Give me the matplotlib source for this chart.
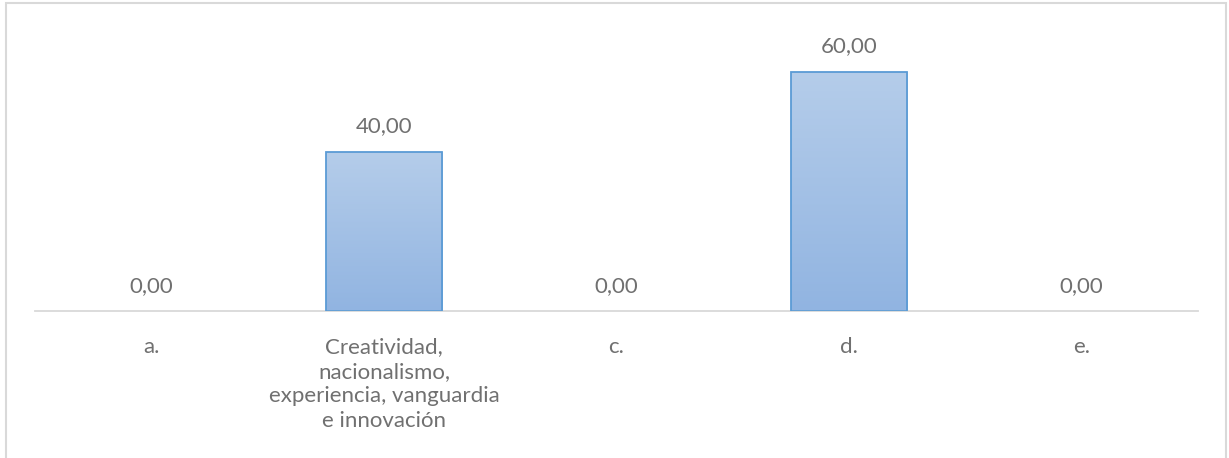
import matplotlib
matplotlib.use('Agg')
import matplotlib.pyplot as plt
from matplotlib.patches import Rectangle
import numpy as np

categories = ['a.', 'Creatividad,\nnacionalismo,\nexperiencia, vanguardia\ne innovación', 'c.', 'd.', 'e.']
values = [0.0, 40.0, 0.0, 60.0, 0.0]

text_gray = '#707070'
plt.rcParams['font.family'] = ['Lato', 'DejaVu Sans']

fig = plt.figure(figsize=(12.29, 4.58), dpi=100)
ax = fig.add_axes([35 / 1229, 147 / 458, 1163 / 1229, 279 / 458])

x = np.arange(len(categories))
bars = ax.bar(x, values, width=0.5, color='none', edgecolor='#5B9BD5', linewidth=1.3, zorder=3)

# vertical gradient fill for each bar, no outline on empty bars
grad = np.linspace(0, 1, 256).reshape(-1, 1)
cmap = matplotlib.colors.LinearSegmentedColormap.from_list('bar', ['#91B4E1', '#B5CDEA'])
for b in bars:
    h = b.get_height()
    if h <= 0:
        b.set_linewidth(0)
        continue
    x0 = b.get_x()
    im = ax.imshow(grad, cmap=cmap, origin='lower', aspect='auto',
                   extent=[x0, x0 + b.get_width(), 0, h], zorder=2)
    im.set_clip_path(b)

ax.set_xlim(-0.5, len(categories) - 0.5)
ax.set_ylim(0, 70)

labels = [f'{v:.2f}'.replace('.', ',') for v in values]
ax.bar_label(bars, labels=labels, padding=11, color=text_gray, fontsize=16)

ax.set_xticks(x)
ax.set_xticklabels(categories, color=text_gray, fontsize=16, linespacing=1.28)
ax.tick_params(axis='x', length=0, pad=19)
ax.set_yticks([])
for s in ['top', 'left', 'right']:
    ax.spines[s].set_visible(False)
ax.spines['bottom'].set_color('#D9D9D9')
ax.spines['bottom'].set_linewidth(1.3)

# chart area border (cut off at the bottom)
fig.patches.append(Rectangle((6 / 1229, -0.05), 1220 / 1229, 1.05 - 3 / 458,
                             transform=fig.transFigure, fill=False,
                             edgecolor='#D9D9D9', linewidth=1.5))

fig.savefig('out.png', dpi=100, facecolor='white')
